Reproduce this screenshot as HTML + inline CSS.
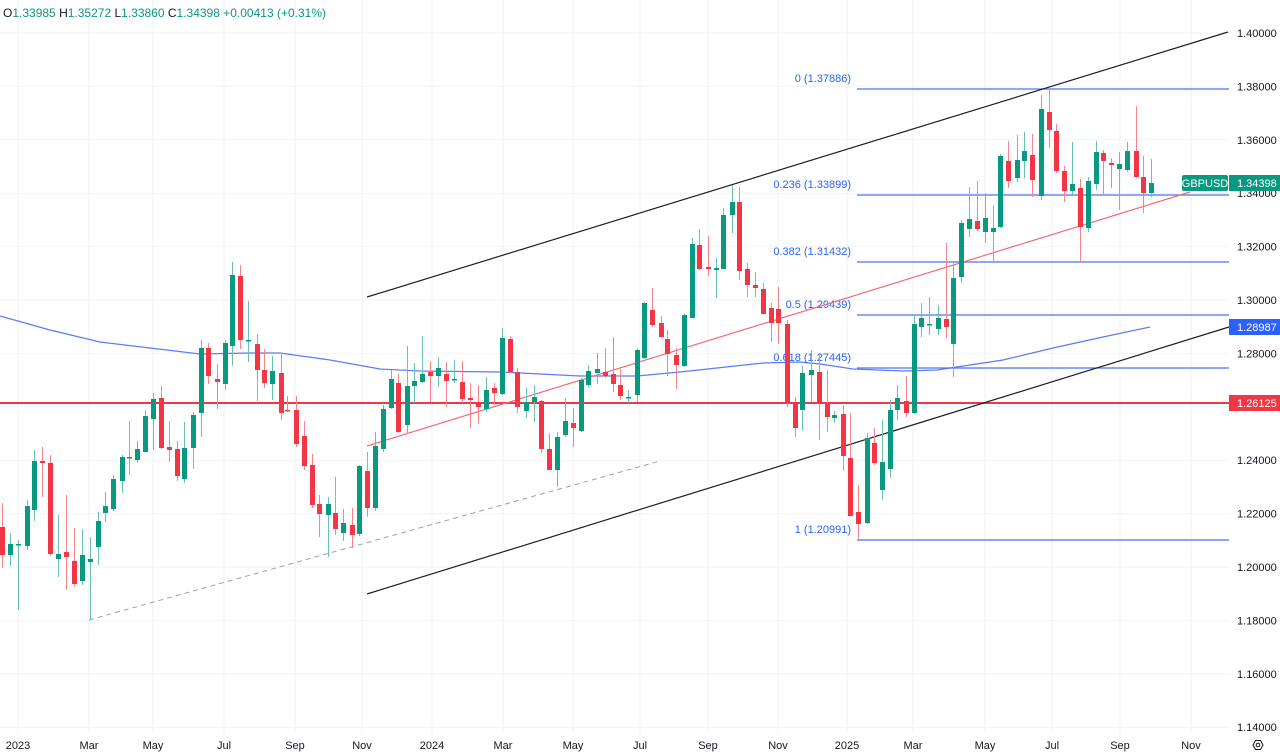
<!DOCTYPE html>
<html><head><meta charset="utf-8"><style>
html,body{margin:0;padding:0;background:#fff;}
svg{display:block;font-family:"Liberation Sans",sans-serif;}
</style></head><body>
<svg id="c" width="1280" height="755" xmlns="http://www.w3.org/2000/svg"></svg>
<script>
const S=document.getElementById('c');let h='';
const Y=p=>33+(1.40-p)*2670;
// grid
for(let k=0;k<=13;k++){const y=33+k*53.4;h+=`<line x1="0" y1="${y}" x2="1229" y2="${y}" stroke="#f0f2f6" stroke-width="1"/>`;}
const months=[[18,'2023'],[89,'Mar'],[153,'May'],[224,'Jul'],[295,'Sep'],[362,'Nov'],[432,'2024'],[503,'Mar'],[573,'May'],[640,'Jul'],[708,'Sep'],[778,'Nov'],[847,'2025'],[913,'Mar'],[985,'May'],[1052,'Jul'],[1120,'Sep'],[1191,'Nov']];
months.forEach(m=>{h+=`<line x1="${m[0]}" y1="0" x2="${m[0]}" y2="733" stroke="#f0f2f6"/>`;h+=`<text x="${m[0]}" y="749" font-size="11" fill="#131722" text-anchor="middle">${m[1]}</text>`;});
// price labels
for(let k=0;k<=13;k++){const p=(1.40-k*0.02).toFixed(5);const y=33+k*53.4;h+=`<text x="1237" y="${y+4}" font-size="11" fill="#131722">${p}</text>`;}
// MA
const ma=[[0,316],[50,330],[100,342],[150,348],[200,354],[250,353],[280,353],[330,360],[380,369],[420,371],[500,372],[580,376],[637,376],[680,372],[763,363],[800,362],[820,364],[853,369],[903,371],[937,370],[970,365],[1003,360],[1053,348],[1103,337],[1150,327]];
h+=`<polyline points="${ma.map(p=>p.join(',')).join(' ')}" fill="none" stroke="#5b7cf5" stroke-width="1.2"/>`;
// fib
const fib=[[89,'0 (1.37886)'],[195,'0.236 (1.33899)'],[262,'0.382 (1.31432)'],[315,'0.5 (1.29439)'],[368,'0.618 (1.27445)'],[540,'1 (1.20991)']];
fib.forEach(f=>{h+=`<line x1="857" y1="${f[0]}" x2="1229" y2="${f[0]}" stroke="#4a74f5" stroke-width="1.2"/>`;h+=`<text x="851" y="${f[0]-7}" font-size="11" fill="#2962ff" text-anchor="end">${f[1]}</text>`;});
// red horizontal
h+=`<line x1="0" y1="403" x2="1229" y2="403" stroke="#f23645" stroke-width="2"/>`;
// channels
h+=`<line x1="367" y1="297" x2="1228" y2="32" stroke="#1e1e1e" stroke-width="1.2"/>`;
h+=`<line x1="367" y1="594" x2="1229" y2="327" stroke="#1e1e1e" stroke-width="1.2"/>`;
h+=`<line x1="367" y1="446" x2="1190" y2="192" stroke="#f26b74" stroke-width="1.2"/>`;
h+=`<line x1="89" y1="620" x2="660" y2="461" stroke="#a0a0a0" stroke-width="1" stroke-dasharray="5,4"/>`;
const d=[
[2,527,555,503,568],[10,555,544,533,566],[18,545,544,540,610],[27,546,506,500,550],[34,510,461,450,521],[42,461,463,447,497],[50,463,554,455,556],[58,559,554,515,577],[66,552,557,495,590],[74,561,584,528,587],[82,581,555,529,585],[90,562,559,537,620],[98,547,521,512,565],[105,513,506,492,522],[113,509,479,475,511],[122,481,457,455,493],[129,457,457,421,475],[137,460,449,441,463],[145,452,416,410,452],[153,419,399,393,450],[161,398,448,386,449],[169,447,450,421,462],[177,449,476,441,481],[184,479,448,422,483],[193,448,415,412,469],[201,413,348,340,437],[208,348,376,343,384],[217,379,382,364,409],[225,384,343,340,390],[232,346,275,262,366],[240,276,340,265,349],[248,340,340,301,362],[257,344,370,334,401],[264,370,383,349,388],[272,384,371,356,400],[281,373,413,353,420],[287,410,411,396,412],[296,410,444,396,447],[304,436,466,421,470],[312,465,505,454,508],[319,504,514,495,537],[328,515,504,497,557],[335,513,529,477,535],[343,533,523,509,541],[352,525,535,508,548],[359,534,466,465,536],[367,471,508,452,517],[375,508,446,432,511],[383,449,409,405,452],[391,408,379,370,409],
[398,383,432,374,433],[407,425,386,346,434],[414,386,381,363,403],[422,382,374,336,383],[430,372,376,361,402],[438,376,368,357,387],[446,374,381,362,407],[454,379,379,360,383],[462,382,399,361,403],[470,398,400,383,428],[478,402,407,385,424],[486,409,390,377,412],[494,388,393,383,405],[502,394,338,328,395],[510,339,372,336,373],[517,372,407,368,413],[526,411,402,388,418],[534,402,397,385,422],[541,401,449,400,453],[549,449,470,433,470],[557,470,437,432,487],[565,435,421,398,437],[573,423,428,408,447],[581,431,380,378,432],[588,385,371,365,387],[597,373,369,353,384],[605,372,376,348,378],[613,374,384,337,392],[620,385,396,369,400],[628,398,397,390,403],[637,395,350,348,402],[644,358,303,302,359],[652,310,325,288,327],[661,323,337,316,338],[667,339,354,330,376],[676,355,365,348,389],[684,366,315,314,367],[692,318,244,238,318],[699,245,269,229,270],[708,267,269,236,276],[716,270,268,258,298],[723,269,215,208,269],[732,215,202,185,233],[739,202,271,187,280],[747,269,285,263,297],[755,285,288,272,297],[763,289,314,283,314],[771,308,323,303,342],[778,309,323,287,344],[787,324,402,320,407],[795,402,428,397,437],
[802,410,373,366,431],[811,375,370,350,402],[819,372,404,353,440],[827,403,417,370,432],[834,418,415,411,423],[843,414,456,405,471],[850,458,516,413,516],[858,512,524,485,540],[867,523,438,433,524],[874,443,463,428,465],[882,490,462,420,500],[890,469,410,400,478],[897,410,398,385,420],[906,401,413,376,417],[914,413,324,315,414],[921,327,318,303,337],[929,324,324,297,335],[938,329,318,305,335],[946,319,327,243,338],[953,344,278,262,377],[961,277,223,220,283],[969,229,219,187,237],[977,221,229,181,231],[985,232,218,193,243],[993,232,228,205,262],[1000,227,156,154,228],[1008,161,181,141,188],[1017,178,160,135,182],[1024,161,151,132,178],[1032,155,180,134,197],[1041,196,109,95,200],[1049,112,130,90,148],[1056,131,171,124,173],[1064,171,191,166,202],[1072,191,184,142,195],[1080,188,227,179,262],[1088,228,181,177,232],[1096,184,152,141,190],[1103,153,161,150,195],[1111,163,165,158,188],[1119,169,164,152,210],[1127,170,151,142,172],[1136,151,177,106,178],[1143,177,193,156,213],[1151,193,183,159,197]];
d.forEach(c=>{const[x,o,cl,hi,lo]=c;const up=cl<=o;const col=up?'#089981':'#f23645';const wc=up?'#6cc0b0':'#f7848d';
h+=`<line x1="${x+0.5}" y1="${hi}" x2="${x+0.5}" y2="${lo}" stroke="${wc}" stroke-width="1"/>`;
const t=Math.min(o,cl),bh=Math.max(1.5,Math.abs(o-cl));h+=`<rect x="${x-2}" y="${t}" width="5" height="${bh}" fill="${col}"/>`;});
// right labels
h+=`<rect x="1182" y="175" width="46" height="16" rx="2" fill="#089981"/><text x="1205" y="187" font-size="11" fill="#fff" text-anchor="middle">GBPUSD</text>`;
h+=`<rect x="1229" y="175" width="51" height="16" fill="#089981"/><text x="1237" y="187" font-size="11" fill="#fff">1.34398</text>`;
h+=`<rect x="1229" y="319" width="51" height="16" fill="#2962ff"/><text x="1237" y="331" font-size="11" fill="#fff">1.28987</text>`;
h+=`<rect x="1229" y="395" width="51" height="16" fill="#f23645"/><text x="1237" y="407" font-size="11" fill="#fff">1.26125</text>`;
// OHLC
h+=`<text x="3" y="17" font-size="12" fill="#089981"><tspan fill="#131722">O</tspan>1.33985 <tspan fill="#131722">H</tspan>1.35272 <tspan fill="#131722">L</tspan>1.33860 <tspan fill="#131722">C</tspan>1.34398 +0.00413 (+0.31%)</text>`;
// settings icon
h+=`<polygon points="1253,745 1255.5,740.5 1260.5,740.5 1263,745 1260.5,749.5 1255.5,749.5" fill="none" stroke="#131722" stroke-width="1"/><circle cx="1258" cy="745" r="1.8" fill="none" stroke="#131722"/>`;
S.innerHTML=h;
</script>
</body></html>
